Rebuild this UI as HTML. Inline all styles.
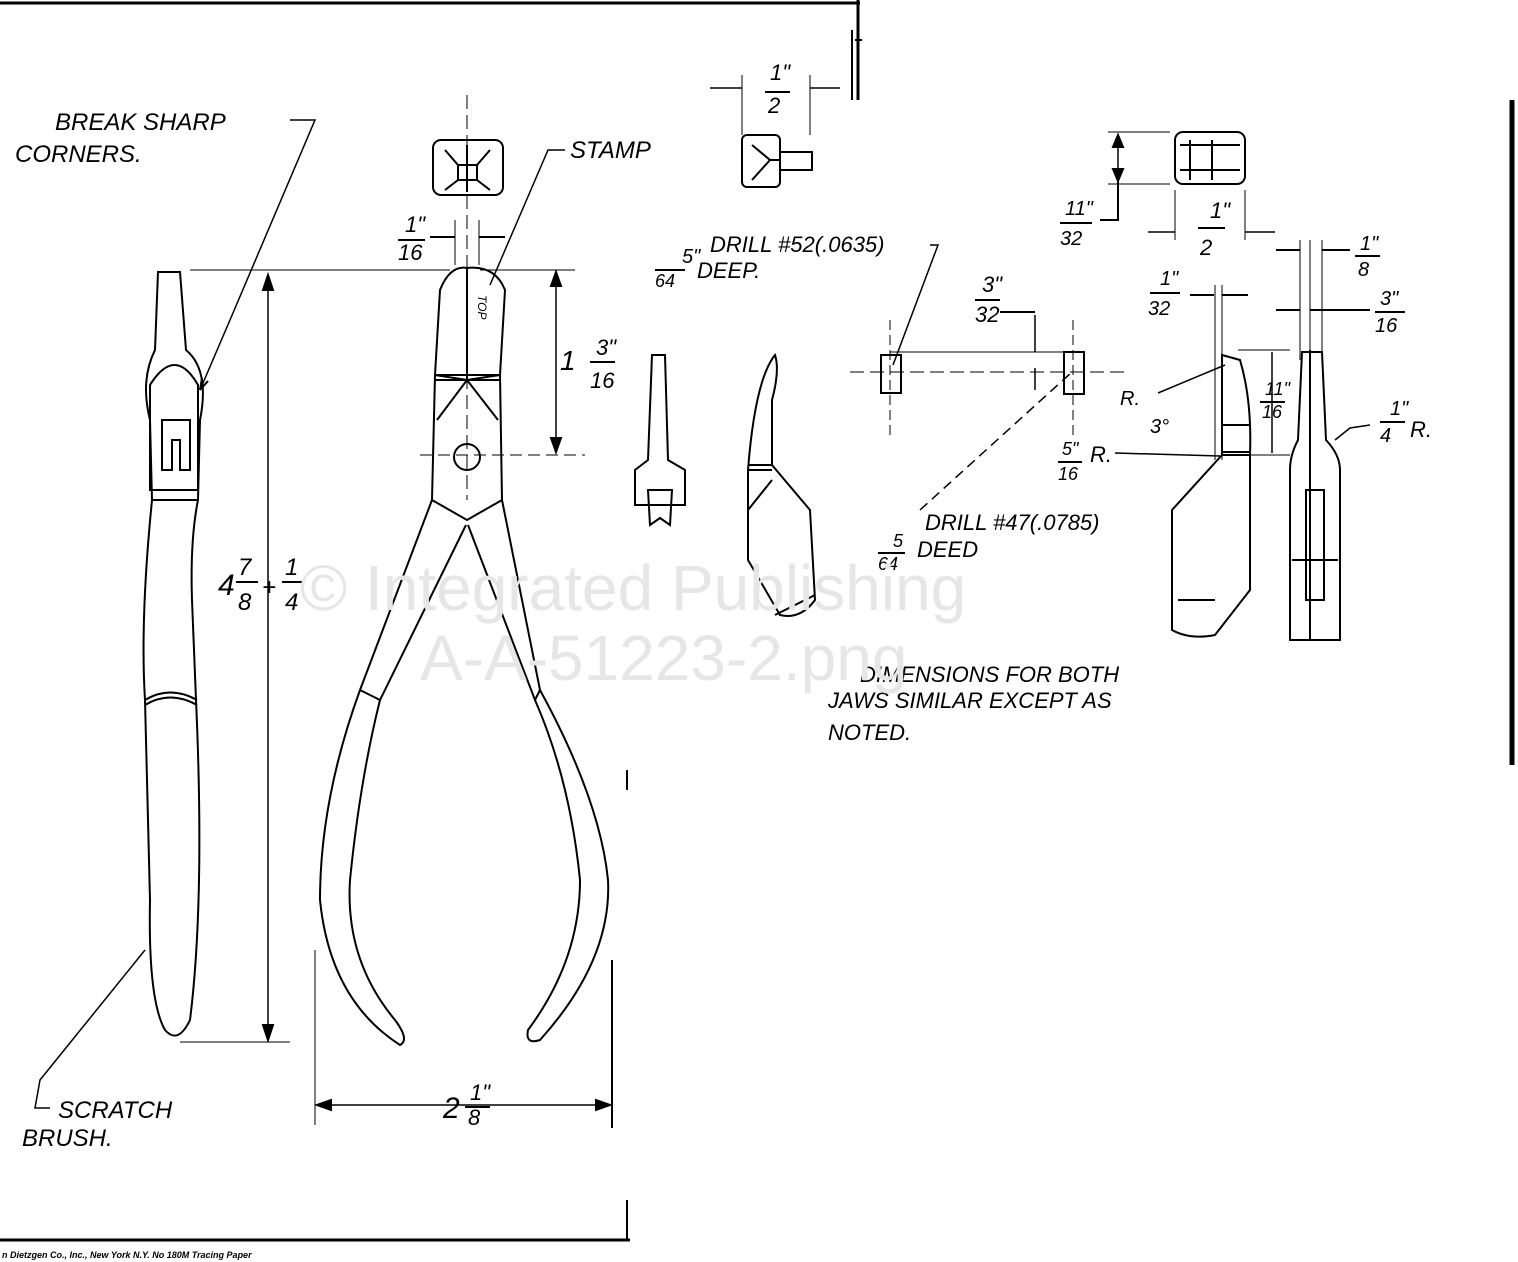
<!DOCTYPE html>
<html><head><meta charset="utf-8"><style>
html,body{margin:0;padding:0;background:#fff;}
svg{display:block}
text{font-family:"Liberation Sans",sans-serif;font-style:italic;fill:#000;}
</style></head><body>
<svg width="1518" height="1262" viewBox="0 0 1518 1262" xmlns="http://www.w3.org/2000/svg" fill="none" stroke="#000" stroke-width="2">
<!-- frame lines -->
<line x1="0" y1="3" x2="860" y2="3" stroke-width="3"/>
<line x1="858" y1="0" x2="858" y2="100" stroke-width="3"/>
<line x1="1512" y1="100" x2="1512" y2="765" stroke-width="5"/>
<line x1="0" y1="1240" x2="630" y2="1240" stroke-width="3"/>
<line x1="612" y1="960" x2="612" y2="1128"/>
<line x1="627" y1="770" x2="627" y2="790"/>
<line x1="627" y1="1200" x2="627" y2="1240"/>

<!-- Left side view -->
<path d="M158 272 L180 272 L186 350 Q210 370 200 420 L198 500 Q190 540 192 600 L196 700 Q205 900 190 1020 Q178 1045 165 1030 Q148 1000 150 900 L145 700 Q140 620 152 500 L150 420 Q140 380 155 350 Z"/>
<path d="M152 500 L198 500"/>
<path d="M150 385 Q175 345 198 385 L198 490 L150 490 Z"/>
<path d="M162 420 L162 470 L172 470 L172 440 L180 440 L180 470 L190 470 L190 420 Z"/>
<path d="M145 705 Q170 690 197 705 M145 700 Q170 685 197 700"/>
<!-- leader break sharp -->
<path d="M290 120 L315 120 L230 320 L200 390" stroke-width="1.5"/>
<path d="M200 390 l2 -12 M200 390 l8 -9"/>
<text x="55" y="130" font-size="24" stroke="none">BREAK SHARP</text>
<text x="15" y="162" font-size="24" stroke="none">CORNERS.</text>
<!-- scratch brush leader -->
<path d="M145 950 L40 1080 L35 1108 L50 1108" stroke-width="1.5"/>
<text x="58" y="1118" font-size="24" stroke="none">SCRATCH</text>
<text x="22" y="1146" font-size="24" stroke="none">BRUSH.</text>

<!-- overall dimension -->
<line x1="190" y1="270" x2="450" y2="270" stroke-width="1"/>
<line x1="268" y1="275" x2="268" y2="1040" stroke-width="1.5"/>
<path d="M268 275 l-5 15 l10 0 Z M268 1040 l-5 -15 l10 0 Z" fill="#000"/>
<line x1="180" y1="1042" x2="290" y2="1042" stroke-width="1"/>
<text x="218" y="595" font-size="30" stroke="none">4</text>
<text x="238" y="575" font-size="24" stroke="none">7</text>
<line x1="236" y1="582" x2="258" y2="582"/>
<text x="238" y="610" font-size="24" stroke="none">8</text>
<text x="262" y="595" font-size="24" stroke="none">+</text>
<text x="285" y="575" font-size="24" stroke="none">1</text>
<line x1="282" y1="582" x2="304" y2="582"/>
<text x="285" y="610" font-size="24" stroke="none">4</text>

<!-- center plier -->
<line x1="467" y1="95" x2="467" y2="500" stroke-width="1" stroke-dasharray="14,6"/>
<rect x="433" y="140" width="70" height="55" rx="8"/>
<path d="M445 150 L458 165 L458 180 L445 190 M490 150 L477 165 L477 180 L490 190 M458 165 L477 165 M458 180 L477 180 M467 145 V192"/>
<path d="M440 290 Q450 265 467 268 L467 380 L435 375 Z"/>
<path d="M467 268 Q495 265 505 290 L500 375 L467 380 Z"/>
<path d="M435 375 L500 375 M435 380 L500 380"/>
<path d="M435 375 L432 500 L467 520 L502 500 L500 375"/>
<path d="M437 420 L467 380 M498 420 L467 380"/>
<circle cx="467" cy="457" r="13"/>
<path d="M432 500 L360 690 Q320 800 320 900 Q330 1000 400 1045 Q410 1040 395 1020 Q345 960 350 880 Q360 780 380 700 L466 525"/>
<path d="M502 500 L540 690 Q600 800 608 880 Q612 960 540 1040 Q525 1045 528 1030 Q580 960 580 880 Q570 780 535 700 L468 525"/>
<path d="M360 690 L380 700 M540 690 L535 700"/>
<text x="478" y="295" font-size="12" stroke="none" transform="rotate(90 478 295)">TOP</text>
<!-- 1/16 dim -->
<line x1="455" y1="220" x2="455" y2="265" stroke-width="1"/>
<line x1="479" y1="220" x2="479" y2="265" stroke-width="1"/>
<path d="M430 237 L455 237 M479 237 L505 237"/>
<text x="405" y="232" font-size="22" stroke="none">1"</text>
<line x1="398" y1="240" x2="425" y2="240"/>
<text x="398" y="260" font-size="22" stroke="none">16</text>
<text x="570" y="158" font-size="24" stroke="none">STAMP</text>
<path d="M565 150 L548 150 L490 285" stroke-width="1.5"/>
<!-- 1 3/16 -->
<line x1="480" y1="270" x2="575" y2="270" stroke-width="1"/>
<line x1="420" y1="455" x2="585" y2="455" stroke-width="1" stroke-dasharray="12,6"/>
<line x1="556" y1="272" x2="556" y2="452" stroke-width="1.5"/>
<path d="M556 272 l-5 14 l10 0Z M556 452 l-5 -14 l10 0Z" fill="#000"/>
<text x="560" y="370" font-size="28" stroke="none">1</text>
<text x="596" y="355" font-size="22" stroke="none">3"</text>
<line x1="590" y1="362" x2="615" y2="362"/>
<text x="590" y="388" font-size="22" stroke="none">16</text>
<!-- 2 1/8 -->
<line x1="315" y1="950" x2="315" y2="1125" stroke-width="1"/>
<line x1="317" y1="1105" x2="610" y2="1105" stroke-width="1.5"/>
<path d="M317 1105 l14 -5 l0 10Z M610 1105 l-14 -5 l0 10Z" fill="#000"/>
<text x="443" y="1118" font-size="30" stroke="none">2</text>
<text x="470" y="1100" font-size="22" stroke="none">1"</text>
<line x1="465" y1="1107" x2="490" y2="1107"/>
<text x="468" y="1125" font-size="22" stroke="none">8</text>

<!-- small top part 1/2 -->
<line x1="742" y1="75" x2="742" y2="135" stroke-width="1"/>
<line x1="810" y1="75" x2="810" y2="135" stroke-width="1"/>
<path d="M710 88 L742 88 M810 88 L840 88" stroke-width="1.5"/>
<text x="770" y="80" font-size="22" stroke="none">1"</text>
<line x1="765" y1="92" x2="790" y2="92"/>
<text x="768" y="113" font-size="22" stroke="none">2</text>
<rect x="742" y="135" width="38" height="52" rx="5"/>
<path d="M780 152 L812 152 L812 170 L780 170 M752 145 L770 160 L752 180 M770 160 H780"/>
<path d="M852 30 L852 100 M855 40 L862 40"/>

<!-- small jaw part -->
<path d="M652 355 L665 355 L668 460 L685 470 L685 505 L635 505 L635 470 L648 460 Z"/>
<path d="M648 490 L672 490 L670 525 L660 518 L650 525 Z"/>
<path d="M748 470 Q755 380 775 355 Q780 370 772 400 L772 465 L810 510 L815 600 Q800 620 780 615 L748 560 Z"/>
<path d="M748 465 L772 465 M748 470 L772 470 M748 510 L772 480 M775 615 L815 595"/>
<text x="682" y="263" font-size="20" stroke="none">5"</text>
<line x1="655" y1="270" x2="685" y2="270"/>
<text x="655" y="287" font-size="18" stroke="none">64</text>
<text x="710" y="252" font-size="22" stroke="none">DRILL #52(.0635)</text>
<text x="697" y="278" font-size="22" stroke="none">DEEP.</text>
<path d="M930 245 L938 245 L893 365" stroke-width="1.5"/>

<!-- drill detail -->
<line x1="850" y1="372" x2="1130" y2="372" stroke-width="1" stroke-dasharray="14,6"/>
<line x1="890" y1="320" x2="890" y2="440" stroke-width="1" stroke-dasharray="10,5"/>
<line x1="1073" y1="320" x2="1073" y2="440" stroke-width="1" stroke-dasharray="10,5"/>
<rect x="881" y="355" width="20" height="38"/>
<rect x="1064" y="352" width="20" height="42"/>
<line x1="890" y1="352" x2="1070" y2="352" stroke-width="1"/>
<path d="M1035 315 L1035 352 M1035 368 L1035 390" stroke-width="1.5"/>
<text x="982" y="292" font-size="22" stroke="none">3"</text>
<line x1="975" y1="300" x2="1000" y2="300"/>
<text x="975" y="322" font-size="22" stroke="none">32</text>
<path d="M1000 312 L1035 312"/>
<path d="M920 510 L1072 372" stroke-width="1.5" stroke-dasharray="10,6"/>
<text x="925" y="530" font-size="22" stroke="none">DRILL #47(.0785)</text>
<text x="917" y="557" font-size="22" stroke="none">DEED</text>
<text x="893" y="547" font-size="18" stroke="none">5</text>
<line x1="878" y1="553" x2="905" y2="553"/>
<text x="878" y="570" font-size="18" stroke="none">64</text>

<!-- right top square -->
<rect x="1175" y="132" width="70" height="52" rx="8"/>
<path d="M1180 145 H1240 M1180 170 H1240 M1212 140 V180 M1190 140 L1190 180"/>
<line x1="1108" y1="132" x2="1170" y2="132" stroke-width="1"/>
<line x1="1108" y1="184" x2="1170" y2="184" stroke-width="1"/>
<line x1="1118" y1="135" x2="1118" y2="181" stroke-width="1.5"/>
<path d="M1118 135 l-5 12 l10 0Z M1118 181 l-5 -12 l10 0Z" fill="#000"/>
<path d="M1118 181 L1118 220 L1100 220"/>
<text x="1065" y="215" font-size="20" stroke="none">11"</text>
<line x1="1060" y1="223" x2="1092" y2="223"/>
<text x="1060" y="245" font-size="20" stroke="none">32</text>
<line x1="1175" y1="190" x2="1175" y2="240" stroke-width="1"/>
<line x1="1245" y1="190" x2="1245" y2="240" stroke-width="1"/>
<path d="M1148 232 L1175 232 M1245 232 L1275 232" stroke-width="1.5"/>
<text x="1210" y="218" font-size="22" stroke="none">1"</text>
<line x1="1198" y1="228" x2="1225" y2="228"/>
<text x="1200" y="255" font-size="22" stroke="none">2</text>

<!-- right jaw -->
<line x1="1215" y1="285" x2="1215" y2="460" stroke-width="1"/>
<line x1="1222" y1="285" x2="1222" y2="460" stroke-width="1"/>
<path d="M1190 295 L1214 295 M1222 295 L1248 295"/>
<text x="1160" y="285" font-size="20" stroke="none">1"</text>
<line x1="1150" y1="293" x2="1180" y2="293"/>
<text x="1148" y="315" font-size="20" stroke="none">32</text>
<path d="M1222 355 L1240 360 Q1252 400 1250 455 L1222 455 Z"/>
<path d="M1222 455 L1172 510 L1172 630 Q1190 640 1215 635 L1250 590 L1250 455"/>
<path d="M1222 425 L1250 425 M1222 452 L1250 452"/>
<path d="M1178 600 L1215 600"/>
<line x1="1238" y1="350" x2="1290" y2="350" stroke-width="1"/>
<line x1="1238" y1="455" x2="1290" y2="455" stroke-width="1"/>
<line x1="1272" y1="352" x2="1272" y2="453" stroke-width="1.5"/>
<text x="1265" y="395" font-size="18" stroke="none">11"</text>
<line x1="1260" y1="402" x2="1285" y2="402"/>
<text x="1262" y="418" font-size="18" stroke="none">16</text>
<path d="M1158 393 L1225 365" stroke-width="1.5"/>
<text x="1120" y="405" font-size="20" stroke="none">R.</text>
<text x="1150" y="433" font-size="20" stroke="none">3°</text>
<path d="M1115 453 L1220 456" stroke-width="1.5"/>
<text x="1090" y="462" font-size="22" stroke="none">R.</text>
<text x="1062" y="455" font-size="18" stroke="none">5"</text>
<line x1="1058" y1="462" x2="1082" y2="462"/>
<text x="1058" y="480" font-size="18" stroke="none">16</text>

<!-- far right jaw -->
<line x1="1300" y1="240" x2="1300" y2="360" stroke-width="1"/>
<line x1="1310" y1="240" x2="1310" y2="360" stroke-width="1"/>
<line x1="1322" y1="240" x2="1322" y2="360" stroke-width="1"/>
<path d="M1276 250 L1300 250 M1322 250 L1350 250"/>
<path d="M1276 310 L1300 310 M1310 310 L1370 310"/>
<text x="1360" y="250" font-size="20" stroke="none">1"</text>
<line x1="1355" y1="256" x2="1380" y2="256"/>
<text x="1358" y="276" font-size="20" stroke="none">8</text>
<text x="1380" y="305" font-size="20" stroke="none">3"</text>
<line x1="1375" y1="312" x2="1405" y2="312"/>
<text x="1375" y="332" font-size="20" stroke="none">16</text>
<path d="M1302 352 L1322 352 L1326 440 Q1340 455 1340 470 L1340 640 L1290 640 L1290 470 Q1290 455 1298 440 Z"/>
<rect x="1306" y="490" width="18" height="110"/>
<path d="M1292 560 H1338 M1310 350 V640"/>
<path d="M1335 440 L1350 428 L1370 425" stroke-width="1.5"/>
<text x="1390" y="415" font-size="20" stroke="none">1"</text>
<line x1="1380" y1="422" x2="1405" y2="422"/>
<text x="1380" y="442" font-size="20" stroke="none">4</text>
<text x="1410" y="437" font-size="22" stroke="none">R.</text>

<text x="860" y="682" font-size="22" stroke="none">DIMENSIONS FOR BOTH</text>
<text x="828" y="708" font-size="22" stroke="none">JAWS SIMILAR EXCEPT AS</text>
<text x="828" y="740" font-size="22" stroke="none">NOTED.</text>

<!-- watermark -->
<text x="300" y="610" font-size="64" stroke="none" fill="#e8e8e8" style="font-style:normal;fill:#e6e6e6">© Integrated Publishing</text>
<text x="420" y="680" font-size="64" stroke="none" style="font-style:normal;fill:#e6e6e6">A-A-51223-2.png</text>
<text x="2" y="1258" font-size="9" stroke="none" style="font-weight:bold">n Dietzgen Co., Inc., New York N.Y. No 180M Tracing Paper</text>
</svg>
</body></html>
